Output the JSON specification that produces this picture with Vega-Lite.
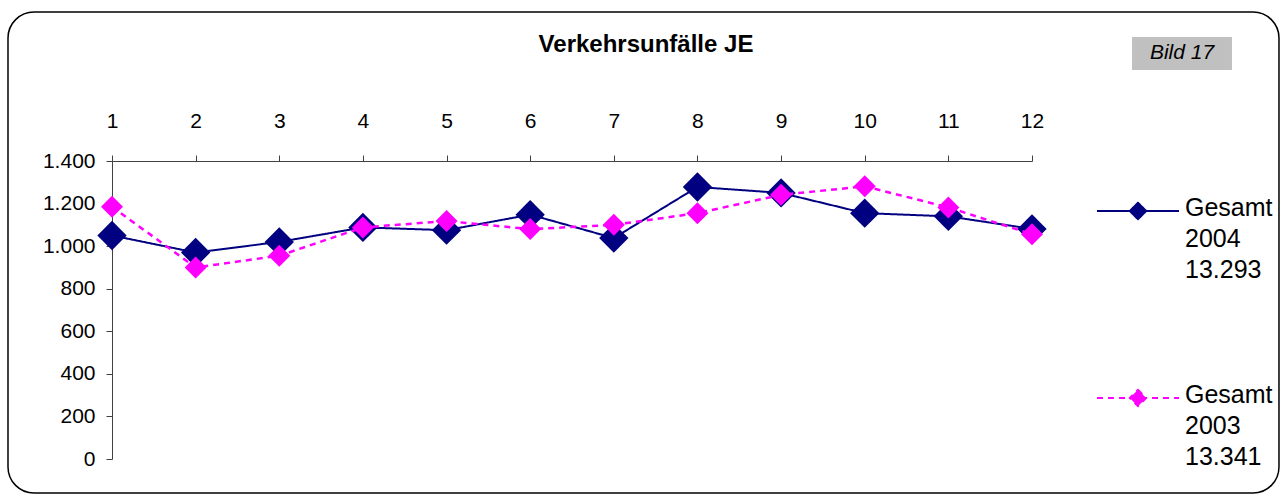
{
  "$schema": "https://vega.github.io/schema/vega-lite/v6.json",
  "width": 920,
  "height": 298,
  "autosize": {"type": "none"},
  "padding": {"left": 112, "top": 161, "right": 249, "bottom": 36},
  "background": "white",
  "title": {
    "text": "Verkehrsunfälle JE",
    "font": "Liberation Sans",
    "fontSize": 24,
    "fontWeight": "bold",
    "color": "black",
    "anchor": "middle",
    "frame": "group",
    "dx": 74,
    "offset": -46
  },
  "config": {
    "view": {"stroke": null},
    "font": "Liberation Sans"
  },
  "layer": [
    {
      "data": {"values": [{}]},
      "mark": {"type": "rect", "fill": "white", "fillOpacity": 0, "stroke": "black", "strokeWidth": 1.5, "cornerRadius": 26},
      "encoding": {
        "x": {"datum": -0.2435, "type": "quantitative", "scale": {"domain": [1, 12], "nice": false, "zero": false}},
        "x2": {"datum": 14.953},
        "y": {"datum": 2100, "type": "quantitative", "scale": {"domain": [0, 1400], "nice": false, "zero": false}},
        "y2": {"datum": -159.7}
      }
    },
    {
      "data": {"values": [{}]},
      "mark": {"type": "rect", "fill": "#c0c0c0", "stroke": null},
      "encoding": {
        "x": {"datum": 13.196, "type": "quantitative"},
        "x2": {"datum": 14.391},
        "y": {"datum": 1982.6, "type": "quantitative"},
        "y2": {"datum": 1827.5}
      }
    },
    {
      "data": {"values": [{"label": "Bild 17"}]},
      "mark": {"type": "text", "font": "Liberation Sans", "fontSize": 21, "fontStyle": "italic", "color": "black", "align": "center", "baseline": "middle"},
      "encoding": {
        "x": {"datum": 13.794, "type": "quantitative"},
        "y": {"datum": 1907, "type": "quantitative"},
        "text": {"field": "label"}
      }
    },
    {
      "data": {
        "values": [
          {"month": 1, "series": "2004", "value": 1050},
          {"month": 2, "series": "2004", "value": 970},
          {"month": 3, "series": "2004", "value": 1020},
          {"month": 4, "series": "2004", "value": 1088},
          {"month": 5, "series": "2004", "value": 1075},
          {"month": 6, "series": "2004", "value": 1148},
          {"month": 7, "series": "2004", "value": 1038},
          {"month": 8, "series": "2004", "value": 1278},
          {"month": 9, "series": "2004", "value": 1250},
          {"month": 10, "series": "2004", "value": 1155},
          {"month": 11, "series": "2004", "value": 1140},
          {"month": 12, "series": "2004", "value": 1081},
          {"month": 1, "series": "2003", "value": 1185},
          {"month": 2, "series": "2003", "value": 900},
          {"month": 3, "series": "2003", "value": 955},
          {"month": 4, "series": "2003", "value": 1088},
          {"month": 5, "series": "2003", "value": 1118},
          {"month": 6, "series": "2003", "value": 1080},
          {"month": 7, "series": "2003", "value": 1100},
          {"month": 8, "series": "2003", "value": 1155},
          {"month": 9, "series": "2003", "value": 1241},
          {"month": 10, "series": "2003", "value": 1281},
          {"month": 11, "series": "2003", "value": 1182},
          {"month": 12, "series": "2003", "value": 1056}
        ]
      },
      "encoding": {
        "x": {
          "field": "month",
          "type": "quantitative",
          "scale": {"domain": [1, 12], "nice": false, "zero": false},
          "axis": {
            "orient": "top",
            "title": null,
            "values": [1, 2, 3, 4, 5, 6, 7, 8, 9, 10, 11, 12],
            "format": "d",
            "grid": false,
            "labelFont": "Liberation Sans",
            "labelFontSize": 21,
            "labelColor": "black",
            "labelPadding": 24,
            "labelBaseline": "bottom",
            "tickSize": 6,
            "tickColor": "#404040",
            "domainColor": "#404040",
            "labelFlush": false,
            "labelOverlap": false
          }
        },
        "y": {
          "field": "value",
          "type": "quantitative",
          "scale": {"domain": [0, 1400], "nice": false, "zero": false},
          "axis": {
            "title": null,
            "values": [0, 200, 400, 600, 800, 1000, 1200, 1400],
            "labelExpr": "replace(format(datum.value, ','), ',', '.')",
            "grid": false,
            "labelFont": "Liberation Sans",
            "labelFontSize": 21,
            "labelColor": "black",
            "labelPadding": 11,
            "tickSize": 6,
            "tickColor": "#404040",
            "domainColor": "#404040",
            "labelFlush": false,
            "labelOverlap": false
          }
        },
        "color": {
          "field": "series",
          "type": "nominal",
          "scale": {"domain": ["2004", "2003"], "range": ["#000080", "#ff00ff"]},
          "legend": {
            "orient": "none",
            "legendX": 984,
            "legendY": 8,
            "padding": 0,
            "title": null,
            "symbolType": "M-1,0H1M0,-0.2L0.2,0L0,0.2L-0.2,0Z",
            "symbolSize": 6724,
            "symbolStrokeWidth": 2,
            "labelExpr": "datum.value == '2004' ? ['Gesamt', '2004', '13.293'] : ['Gesamt', '2003', '13.341']",
            "labelFont": "Liberation Sans",
            "labelFontSize": 25,
            "labelColor": "black",
            "labelOffset": 5,
            "labelLimit": 300,
            "labelBaseline": "alphabetic",
            "rowPadding": 73,
            "encode": {
              "symbols": {"update": {"fill": {"scale": "color", "field": "value"}, "fillOpacity": {"value": 1}, "opacity": {"value": 1}}},
              "labels": {"update": {"lineHeight": {"value": 31}, "dy": {"value": 5}}}
            }
          }
        },
        "strokeDash": {
          "field": "series",
          "type": "nominal",
          "scale": {"domain": ["2004", "2003"], "range": [[1, 0], [6, 5]]},
          "legend": null
        }
      },
      "layer": [
        {
          "transform": [{"filter": "datum.series == '2004'"}],
          "mark": {"type": "line", "strokeWidth": 2, "point": {"shape": "diamond", "size": 860, "filled": true, "opacity": 1}}
        },
        {
          "transform": [{"filter": "datum.series == '2003'"}],
          "mark": {"type": "line", "strokeWidth": 2.5, "point": {"shape": "diamond", "size": 484, "filled": true, "opacity": 1}}
        }
      ]
    }
  ]
}
